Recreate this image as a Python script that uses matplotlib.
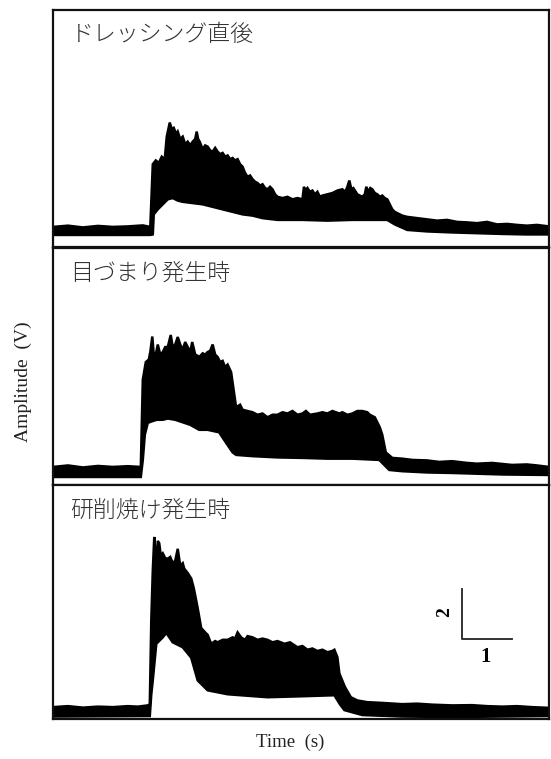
import numpy as np
import matplotlib
matplotlib.use("Agg")
from matplotlib import pyplot as plt

plt.rcParams['font.family'] = ['Noto Sans CJK JP', 'DejaVu Sans']

# Panel titles
titles = ["ドレッシング直後", "目づまり発生時", "研削焼け発生時"]

# Envelope of the signal (time in s, amplitude in V)
# Panel 1: right after dressing
t_up1 = [0.0, 0.3, 0.6, 0.9, 1.2, 1.5, 1.8, 1.95, 2.0, 2.06, 2.12, 2.18, 2.24, 2.28, 2.34, 2.38, 2.42,
         2.47, 2.5, 2.55, 2.6, 2.65, 2.7, 2.75, 2.8, 2.85, 2.88, 2.91, 2.94, 3.0, 3.05, 3.1, 3.15,
         3.2, 3.25, 3.3, 3.35, 3.4, 3.45, 3.5, 3.55, 3.6, 3.65, 3.7, 3.75, 3.8, 3.85, 3.9, 3.95,
         4.0, 4.05, 4.1, 4.15, 4.2, 4.25, 4.3, 4.35, 4.4, 4.45, 4.5, 4.6, 4.7, 4.8, 4.9, 5.0,
         5.03, 5.06, 5.1, 5.15, 5.2, 5.25, 5.3, 5.35, 5.4, 5.5, 5.6, 5.7, 5.8, 5.86, 5.9, 5.94,
         5.98, 6.02, 6.1, 6.2, 6.25, 6.28, 6.32, 6.36, 6.4, 6.45, 6.5, 6.55, 6.6, 6.65, 6.7, 6.75,
         6.8, 6.85, 6.9, 7.0, 7.1, 7.3, 7.5, 7.7, 7.9, 8.1, 8.3, 8.5, 8.7, 8.9, 9.1, 9.3, 9.5,
         9.7, 9.94]
v_up1 = [0.80, 0.85, 0.78, 0.84, 0.80, 0.82, 0.86, 0.80, 3.3, 3.45, 3.35, 3.6, 3.5, 4.4, 4.96, 4.7, 4.75,
         4.5, 4.6, 4.3, 4.4, 4.1, 4.2, 4.05, 4.2, 4.3, 4.6, 4.3, 4.2, 3.9, 4.05, 4.0, 3.85,
         3.8, 3.95, 3.8, 3.7, 3.75, 3.6, 3.65, 3.5, 3.55, 3.45, 3.5, 3.3, 3.2, 2.95, 2.8, 2.85,
         2.7, 2.6, 2.55, 2.45, 2.5, 2.35, 2.3, 2.4, 2.3, 2.1, 2.0, 1.95, 2.0, 1.9, 1.95, 1.9,
         2.4, 2.25, 2.35, 2.2, 2.25, 2.1, 2.2, 2.0, 2.05, 2.1, 2.15, 2.25, 2.3, 2.2, 2.4, 2.65,
         2.3, 2.35, 2.1, 2.0, 2.1, 2.4, 2.2, 2.35, 2.3, 2.15, 2.1, 2.0, 2.05, 1.95, 1.9, 1.7,
         1.5, 1.4, 1.35, 1.25, 1.2, 1.15, 1.1, 1.05, 1.08, 1.0, 0.98, 0.95, 1.0, 0.9, 0.92, 0.88, 0.85,
         0.88, 0.82]
t_lo1 = [0.0, 1.95, 2.0, 2.02, 2.1, 2.2, 2.3, 2.4, 2.5, 2.6, 2.8, 3.0, 3.2, 3.4, 3.6, 3.8, 4.0,
         4.2, 4.5, 5.0, 5.5, 6.0, 6.5, 6.7, 6.85, 7.1, 7.5, 8.0, 8.5, 9.0, 9.5, 9.94]
v_lo1 = [0.48, 0.48, 0.5, 1.3, 1.5, 1.7, 1.9, 1.95, 1.85, 1.8, 1.75, 1.7, 1.6, 1.5, 1.4, 1.3, 1.25,
         1.15, 1.08, 1.08, 1.05, 1.08, 1.08, 1.08, 0.9, 0.68, 0.62, 0.58, 0.55, 0.52, 0.50, 0.5]

# Panel 2: loading (clogging)
t_up2 = [0.0, 0.3, 0.6, 0.9, 1.2, 1.5, 1.76, 1.8, 1.86, 1.92, 1.95, 1.99, 2.02, 2.05, 2.1, 2.15,
         2.2, 2.25, 2.3, 2.36, 2.4, 2.45, 2.5, 2.55, 2.6, 2.65, 2.7, 2.75, 2.79, 2.85, 2.9,
         2.93, 3.0, 3.05, 3.1, 3.15, 3.2, 3.25, 3.3, 3.35, 3.4, 3.45, 3.5, 3.57, 3.62, 3.67,
         3.75, 3.8, 3.9, 4.0, 4.1, 4.2, 4.3, 4.4, 4.5, 4.6, 4.7, 4.8, 4.9, 5.0, 5.07, 5.15,
         5.3, 5.4, 5.5, 5.6, 5.74, 5.8, 5.9, 6.0, 6.05, 6.1, 6.2, 6.3, 6.35, 6.45, 6.5, 6.55,
         6.6, 6.67, 6.8, 7.0, 7.2, 7.5, 7.74, 8.0, 8.3, 8.5, 8.8, 9.2, 9.5, 9.7, 9.94]
v_up2 = [0.72, 0.78, 0.70, 0.76, 0.72, 0.75, 0.72, 4.2, 4.9, 5.0, 5.3, 5.92, 5.2, 5.1, 5.6, 5.2,
         5.3, 5.5, 5.5, 5.98, 5.5, 5.6, 5.9, 5.6, 5.4, 5.7, 5.5, 5.3, 5.7, 5.2, 5.15,
         5.1, 5.25, 5.2, 5.3, 5.35, 5.6, 5.2, 5.1, 4.9, 4.95, 4.7, 4.8, 4.5, 3.8, 3.1,
         3.2, 3.0, 2.95, 2.9, 2.8, 2.85, 2.7, 2.8, 2.8, 2.9, 2.85, 2.95, 2.8, 2.85, 2.95, 2.8,
         2.85, 2.9, 2.85, 2.95, 2.85, 2.9, 2.8, 2.85, 2.9, 2.95, 2.95, 2.9, 2.8, 2.7, 2.5, 2.3,
         2.0, 1.3, 1.08, 1.05, 1.0, 0.98, 0.92, 0.95, 0.88, 0.85, 0.88, 0.8, 0.82, 0.78, 0.72]
t_lo2 = [0.0, 1.76, 1.8, 1.84, 1.9, 2.0, 2.08, 2.2, 2.3, 2.45, 2.6, 2.75, 2.93, 3.1, 3.33, 3.47,
         3.6, 3.67, 4.0, 4.5, 5.0, 5.5, 6.0, 6.54, 6.74, 7.0, 7.5, 8.0, 8.5, 9.0, 9.94]
v_lo2 = [0.32, 0.32, 1.0, 2.0, 2.48, 2.55, 2.6, 2.6, 2.65, 2.6, 2.5, 2.4, 2.2, 2.2, 2.1, 1.68,
         1.3, 1.2, 1.15, 1.1, 1.08, 1.05, 1.05, 1.0, 0.6, 0.55, 0.5, 0.48, 0.45, 0.42, 0.4]

# Panel 3: grinding burn
t_up3 = [0.0, 0.3, 0.6, 0.9, 1.2, 1.5, 1.7, 1.9, 1.94, 1.97, 2.0, 2.03, 2.06, 2.08, 2.1, 2.13,
         2.16, 2.2, 2.25, 2.3, 2.35, 2.4, 2.45, 2.5, 2.55, 2.6, 2.63, 2.7, 2.77, 2.82, 2.85,
         2.9, 2.97, 3.05, 3.1, 3.17, 3.25, 3.3, 3.4, 3.5, 3.6, 3.65, 3.7, 3.77, 3.85, 3.9, 4.0,
         4.1, 4.2, 4.3, 4.4, 4.5, 4.64, 4.75, 4.9, 5.0, 5.1, 5.2, 5.3, 5.4, 5.5, 5.6, 5.64,
         5.7, 5.74, 5.85, 5.97, 6.1, 6.3, 6.6, 7.0, 7.3, 7.6, 8.0, 8.4, 8.7, 9.0, 9.3, 9.6, 9.94]
v_up3 = [0.48, 0.52, 0.46, 0.50, 0.48, 0.52, 0.50, 0.55, 0.6, 4.0, 6.0, 7.36, 6.5, 6.4, 7.2, 7.1,
         6.6, 6.7, 6.5, 6.48, 6.55, 6.3, 6.4, 6.88, 6.2, 6.3, 6.08, 5.9, 5.68, 5.3, 5.0,
         4.48, 3.68, 3.5, 3.4, 3.04, 3.15, 3.1, 3.2, 3.2, 3.3, 3.25, 3.5, 3.3, 3.2, 3.35, 3.3,
         3.2, 3.25, 3.2, 3.1, 3.15, 3.04, 3.1, 2.9, 2.95, 2.8, 2.85, 2.75, 2.8, 2.7, 2.75, 2.8,
         2.5, 1.84, 1.3, 0.88, 0.75, 0.68, 0.65, 0.6, 0.62, 0.58, 0.55, 0.56, 0.52, 0.5, 0.52, 0.48, 0.45]
t_lo3 = [0.0, 1.94, 1.97, 2.0, 2.07, 2.2, 2.27, 2.4, 2.6, 2.77, 2.9, 3.1, 3.5, 4.3, 5.0, 5.64,
         5.75, 5.84, 6.2, 7.0, 8.0, 9.94]
v_lo3 = [0.10, 0.12, 1.0, 1.56, 3.04, 3.3, 3.48, 3.1, 2.9, 2.48, 1.56, 1.16, 1.0, 0.88, 0.92, 0.96,
         0.6, 0.36, 0.16, 0.10, 0.08, 0.12]

uppers = [(t_up1, v_up1), (t_up2, v_up2), (t_up3, v_up3)]
lowers = [(t_lo1, v_lo1), (t_lo2, v_lo2), (t_lo3, v_lo3)]

# Scale bar in the last panel: 2 V by 1 s
bar_t0, bar_v0 = 8.2, 3.24

fig = plt.figure(figsize=(5.51, 7.59), dpi=100)
bottoms = [0.6746, 0.3610, 0.0527]
axes = []
for j in range(3):
    ax = fig.add_axes([0.0962, bottoms[j], 0.900, 0.3123 if j < 2 else 0.308])
    tu, vu = np.array(uppers[j][0]), np.array(uppers[j][1])
    tl, vl = np.array(lowers[j][0]), np.array(lowers[j][1])
    ax.fill(np.r_[tu, tl[::-1]], np.r_[vu, vl[::-1]], fc='k', ec='k', lw=1.8, joinstyle='miter')
    ax.set_xlim(0, 9.94)
    ax.set_ylim(0, 9.45)
    ax.set_xticks([])
    ax.set_yticks([])
    for s in ax.spines.values():
        s.set_linewidth(1.6)
        s.set_color('#111111')
    ax.text(0.035, 0.895, titles[j], transform=ax.transAxes, fontsize=16.5, color='#333333',
            ha='left', va='center', fontweight='light')
    axes.append(ax)

ax = axes[2]
ax.plot([bar_t0, bar_t0, bar_t0 + 1], [bar_v0 + 2, bar_v0, bar_v0], c='#222222', lw=1.3)
ax.text(bar_t0 - 0.35, bar_v0 + 1.1, "2", rotation=90, fontsize=14, ha='center', va='center',
        family='Liberation Serif', fontweight='bold')
ax.text(bar_t0 + 0.48, bar_v0 - 0.75, "1", fontsize=15, ha='center', va='center',
        family='Liberation Serif', fontweight='bold')

fig.text(0.042, 0.497, "Amplitude  (V)", rotation=90, ha='center', va='center',
         family='Liberation Serif', fontsize=14, color='#222222')
fig.text(0.527, 0.022, "Time  (s)", ha='center', va='center',
         family='Liberation Serif', fontsize=13.5, color='#222222')

fig.savefig("out.png", dpi=100)
